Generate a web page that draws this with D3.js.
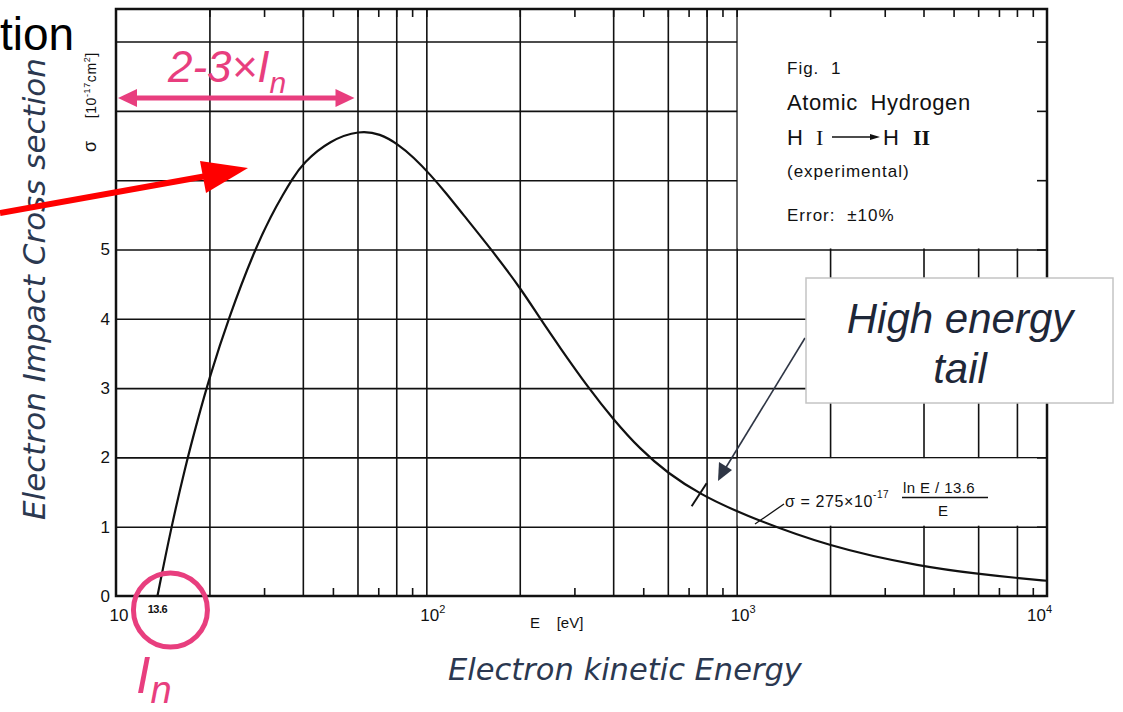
<!DOCTYPE html>
<html>
<head>
<meta charset="utf-8">
<script src="https://cdn.jsdelivr.net/npm/d3@7"></script>
<style>
body { margin: 0; background: #fff; }
svg { display: block; }
.grid line { stroke: #111; stroke-width: 1.6; }
.grid path, .ticks path { display: none; }
.ticks line { stroke: #111; stroke-width: 1.6; }
.ylabels path, .ylabels line { display: none; }
</style>
</head>
<body>
<svg id="chart" width="1123" height="712"></svg>
<script>
'use strict';

// electron energy [eV] and ionisation cross section [1e-17 cm^2]
var energy = [13.6, 15, 16.7, 18.4, 20, 23, 28, 31.7, 34.6, 36.8, 40, 49, 61, 71, 81, 91, 103, 116, 130, 162, 202, 232, 270, 332, 400, 488, 600, 762, 1026, 2000, 4000, 6000, 8000, 10000];
var sigma  = [0, 0.95, 1.86, 2.57, 3.15, 4.0, 5.0, 5.5, 5.8, 6.0, 6.25, 6.58, 6.72, 6.67, 6.52, 6.33, 6.08, 5.81, 5.53, 5.0, 4.43, 4.01, 3.58, 3.01, 2.55, 2.12, 1.77, 1.47, 1.19, 0.70, 0.42, 0.32, 0.26, 0.22];

var gridE  = [20, 40, 60, 80, 100, 200, 400, 600, 800, 1000, 2000, 4000, 6000, 8000];
var minorE = [30, 50, 70, 90, 300, 500, 700, 900, 3000, 5000, 7000, 9000];
var gridS  = [1, 2, 3, 4, 5, 6, 7, 8];
var yLabels = [0, 1, 2, 3, 4, 5];
var xLabelValues = [10, 100, 1000, 10000];
var xLabelPowers = ['', '2', '3', '4'];
var ionisation = 13.6;
var peakE = 60;
var tailE = 757, tailS = 1.46;

var legendLines = ['Fig. 1', 'Atomic  Hydrogen', '', '(experimental)', 'Error: \u00b110%'];

var pink = '#e83e7e';
var slate = '#2b3850';

var svg = d3.select('#chart');

var x = d3.scaleLog().domain([10, 10000]).range([116, 1047]);
var y = d3.scaleLinear().domain([0, 8.47]).range([596, 9]);
var plotLeft = x.range()[0], plotRight = x.range()[1];
var plotTop = y.range()[1], plotBottom = y.range()[0];

// grid
svg.append('g')
	.attr('class', 'grid')
	.attr('transform', 'translate(0,' + plotBottom + ')')
	.call(d3.axisBottom(x).tickValues(gridE).tickSize(-(plotBottom - plotTop)).tickFormat(''))
	;
svg.append('g')
	.attr('class', 'grid')
	.attr('transform', 'translate(' + plotLeft + ',0)')
	.call(d3.axisLeft(y).tickValues(gridS).tickSize(-(plotRight - plotLeft)).tickFormat(''))
	;

// blank areas of the original figure (legend and formula)
svg.append('rect')
	.attr('x', x(1000) + 1).attr('y', plotTop + 1)
	.attr('width', x(10000) - x(1000) - 2).attr('height', y(5) - plotTop - 2)
	.attr('fill', '#fff');
svg.append('rect')
	.attr('x', x(1000) + 1).attr('y', y(2) + 1)
	.attr('width', x(10000) - x(1000) - 2).attr('height', y(1) - y(2) - 2)
	.attr('fill', '#fff');

// small ticks on the frame
svg.append('g')
	.attr('class', 'ticks')
	.attr('transform', 'translate(0,' + plotBottom + ')')
	.call(d3.axisBottom(x).tickValues(minorE).tickSize(-8).tickFormat(''))
	;
svg.append('g')
	.attr('class', 'ticks')
	.attr('transform', 'translate(0,' + plotTop + ')')
	.call(d3.axisTop(x).tickValues(minorE.concat(gridE)).tickSize(-8).tickFormat(''))
	;
svg.append('g')
	.attr('class', 'ticks')
	.attr('transform', 'translate(' + plotRight + ',0)')
	.call(d3.axisRight(y).tickValues(gridS).tickSize(-10).tickFormat(''))
	;

svg.append('rect')
	.attr('x', plotLeft).attr('y', plotTop)
	.attr('width', plotRight - plotLeft).attr('height', plotBottom - plotTop)
	.attr('fill', 'none')
	.attr('stroke', '#111')
	.attr('stroke-width', 2.5);

// y tick labels
var ylab = svg.append('g')
	.attr('class', 'ylabels')
	.attr('transform', 'translate(' + plotLeft + ',0)')
	.call(d3.axisLeft(y).tickValues(yLabels).tickSize(0).tickPadding(6).tickFormat(d3.format('d')))
	;
ylab.selectAll('text')
	.attr('font-family', 'Liberation Sans, Arial, sans-serif')
	.attr('font-size', 17)
	.attr('fill', '#111');

// x tick labels
xLabelValues.forEach(function(v, i) {
	var p = xLabelPowers[i];
	var t = svg.append('text')
		.attr('font-family', 'Liberation Sans, Arial, sans-serif')
		.attr('font-size', 17)
		.attr('fill', '#111')
		.attr('y', 621);
	if (p === '') {
		t.attr('x', x(v) + 3).attr('text-anchor', 'middle').text('10');
	} else {
		t.attr('x', v === 10000 ? x(v) - 20 : x(v) - 6).text('10');
		t.append('tspan').attr('font-size', 11).attr('dy', -8).text(p);
	}
});
svg.append('text')
	.attr('x', x(ionisation)).attr('y', 613)
	.attr('text-anchor', 'middle')
	.attr('font-family', 'Liberation Sans, Arial, sans-serif')
	.attr('font-size', 11).attr('font-weight', 'bold')
	.attr('letter-spacing', -0.5)
	.attr('fill', '#111')
	.text('13.6');
svg.append('text')
	.attr('x', 530).attr('y', 628)
	.attr('font-family', 'Liberation Sans, Arial, sans-serif')
	.attr('font-size', 15).attr('fill', '#111')
	.attr('xml:space', 'preserve')
	.text('E    [eV]');

// y axis name of the original figure
var yname = svg.append('text')
	.attr('transform', 'translate(96,152) rotate(-90)')
	.attr('font-family', 'Liberation Sans, Arial, sans-serif')
	.attr('font-size', 14).attr('fill', '#111')
	.attr('letter-spacing', 0.6);
yname.append('tspan').attr('font-size', 18).text('\u03c3');
yname.append('tspan').attr('dx', 22).text('[10');
yname.append('tspan').attr('font-size', 9).attr('dy', -6).text('-17');
yname.append('tspan').attr('dy', 6).text('cm');
yname.append('tspan').attr('font-size', 9).attr('dy', -6).text('2');
yname.append('tspan').attr('dy', 6).text(']');

// curve
var line = d3.line()
	.x(function(d) { return x(d[0]); })
	.y(function(d) { return y(d[1]); })
	.curve(d3.curveBasis);
svg.append('path')
	.datum(energy.map(function(e, i) { return [e, sigma[i]]; }))
	.attr('d', line)
	.attr('fill', 'none')
	.attr('stroke', '#111')
	.attr('stroke-width', 2.2);

// short bar across the curve
svg.append('line')
	.attr('x1', x(tailE) - 7.5).attr('y1', y(tailS) + 11.5)
	.attr('x2', x(tailE) + 7.5).attr('y2', y(tailS) - 11.5)
	.attr('stroke', '#111').attr('stroke-width', 2);

// legend text
var legend = svg.append('g')
	.attr('font-family', 'Liberation Sans, Arial, sans-serif')
	.attr('fill', '#111');
var legendY = [74, 110, 145, 177, 221];
var legendSize = [17, 22, 22, 17, 17];
legendLines.forEach(function(t, i) {
	if (!t) return;
	legend.append('text')
		.attr('x', 787).attr('y', legendY[i])
		.attr('font-size', legendSize[i])
		.attr('letter-spacing', i === 1 ? 0.6 : 1)
		.attr('word-spacing', 6)
		.text(t);
});
legend.append('text').attr('x', 787).attr('y', 145).attr('font-size', 22).text('H');
legend.append('text').attr('x', 816).attr('y', 145).attr('font-size', 22)
	.attr('font-family', 'Liberation Serif, serif').text('I');
legend.append('line')
	.attr('x1', 832).attr('y1', 137).attr('x2', 872).attr('y2', 137)
	.attr('stroke', '#111').attr('stroke-width', 1.3);
legend.append('path')
	.attr('d', 'M870,134 L880,137 L870,140 Z').attr('fill', '#111');
legend.append('text').attr('x', 883).attr('y', 145).attr('font-size', 22).text('H');
legend.append('text').attr('x', 913).attr('y', 145).attr('font-size', 22)
	.attr('font-family', 'Liberation Serif, serif').attr('font-weight', 'bold').text('II');

// formula
var formula = svg.append('g')
	.attr('font-family', 'Liberation Sans, Arial, sans-serif')
	.attr('fill', '#111');
svg.append('line')
	.attr('x1', 755).attr('y1', 524).attr('x2', 784).attr('y2', 504)
	.attr('stroke', '#111').attr('stroke-width', 1.3);
var f1 = formula.append('text').attr('x', 785).attr('y', 507).attr('font-size', 16).attr('letter-spacing', 0.6);
f1.append('tspan').text('\u03c3 = 275\u00d710');
f1.append('tspan').attr('font-size', 10).attr('dy', -9).text('-17');
formula.append('text').attr('x', 903).attr('y', 493).attr('font-size', 15).attr('letter-spacing', 0.4).text('ln E / 13.6');
formula.append('line')
	.attr('x1', 902).attr('y1', 497.5).attr('x2', 988).attr('y2', 497.5)
	.attr('stroke', '#111').attr('stroke-width', 1.3);
formula.append('text').attr('x', 943).attr('y', 516).attr('text-anchor', 'middle').attr('font-size', 15).text('E');

// slide annotations
svg.append('text')
	.attr('x', 0).attr('y', 50)
	.attr('font-family', 'Liberation Sans, Arial, sans-serif')
	.attr('font-size', 46).attr('fill', '#000')
	.text('tion');

svg.append('text')
	.attr('transform', 'translate(45,520) rotate(-90)')
	.attr('font-family', 'DejaVu Sans, sans-serif')
	.attr('font-style', 'italic')
	.attr('font-size', 31).attr('fill', slate)
	.text('Electron Impact Cross section');

svg.append('text')
	.attr('x', 448).attr('y', 680)
	.attr('font-family', 'DejaVu Sans, sans-serif')
	.attr('font-style', 'italic')
	.attr('font-size', 30.5).attr('fill', slate)
	.text('Electron kinetic Energy');

// red arrow
svg.append('line')
	.attr('x1', 0).attr('y1', 213).attr('x2', 212).attr('y2', 175)
	.attr('stroke', '#ff0000').attr('stroke-width', 6);
svg.append('path')
	.attr('d', 'M248,168 L200,161 L206,193 Z')
	.attr('fill', '#ff0000');

// pink 2-3 x In arrow
var arrowY = 98;
var ax1 = x(10) + 2, ax2 = x(peakE) - 3;
svg.append('line')
	.attr('x1', ax1 + 10).attr('y1', arrowY).attr('x2', ax2 - 10).attr('y2', arrowY)
	.attr('stroke', pink).attr('stroke-width', 5);
svg.append('path')
	.attr('d', 'M' + ax1 + ',' + arrowY + ' L' + (ax1 + 19) + ',' + (arrowY - 9) + ' L' + (ax1 + 19) + ',' + (arrowY + 9) + ' Z')
	.attr('fill', pink);
svg.append('path')
	.attr('d', 'M' + ax2 + ',' + arrowY + ' L' + (ax2 - 19) + ',' + (arrowY - 9) + ' L' + (ax2 - 19) + ',' + (arrowY + 9) + ' Z')
	.attr('fill', pink);
var pt = svg.append('text')
	.attr('x', 168).attr('y', 82)
	.attr('font-family', 'Liberation Sans, Arial, sans-serif')
	.attr('font-style', 'italic')
	.attr('font-size', 44).attr('fill', pink);
pt.append('tspan').text('2-3\u00d7I');
pt.append('tspan').attr('font-size', 30).attr('dy', 11).text('n');

// pink circle at the ionisation energy
svg.append('circle')
	.attr('cx', x(ionisation) + 13).attr('cy', 610).attr('r', 37)
	.attr('fill', 'none').attr('stroke', pink).attr('stroke-width', 5);
var inl = svg.append('text')
	.attr('x', 136).attr('y', 693)
	.attr('font-family', 'Liberation Sans, Arial, sans-serif')
	.attr('font-style', 'italic')
	.attr('font-size', 52).attr('fill', pink);
inl.append('tspan').text('I');
inl.append('tspan').attr('font-size', 38).attr('dy', 10).text('n');

// callout
svg.append('line')
	.attr('x1', 805).attr('y1', 338).attr('x2', 725).attr('y2', 469)
	.attr('stroke', '#2f3645').attr('stroke-width', 1.6);
svg.append('path')
	.attr('d', 'M718,481 L719,462 L732,470 Z')
	.attr('fill', '#2f3645');
svg.append('rect')
	.attr('x', 806).attr('y', 278).attr('width', 307).attr('height', 125)
	.attr('fill', '#fff')
	.attr('stroke', '#c4c4c4').attr('stroke-width', 1.5);
var co = svg.append('text')
	.attr('text-anchor', 'middle')
	.attr('font-family', 'Liberation Sans, Arial, sans-serif')
	.attr('font-style', 'italic')
	.attr('font-size', 42).attr('fill', '#1e2738');
co.append('tspan').attr('x', 960).attr('y', 333).text('High energy');
co.append('tspan').attr('x', 960).attr('y', 383).text('tail');
</script>
</body>
</html>
